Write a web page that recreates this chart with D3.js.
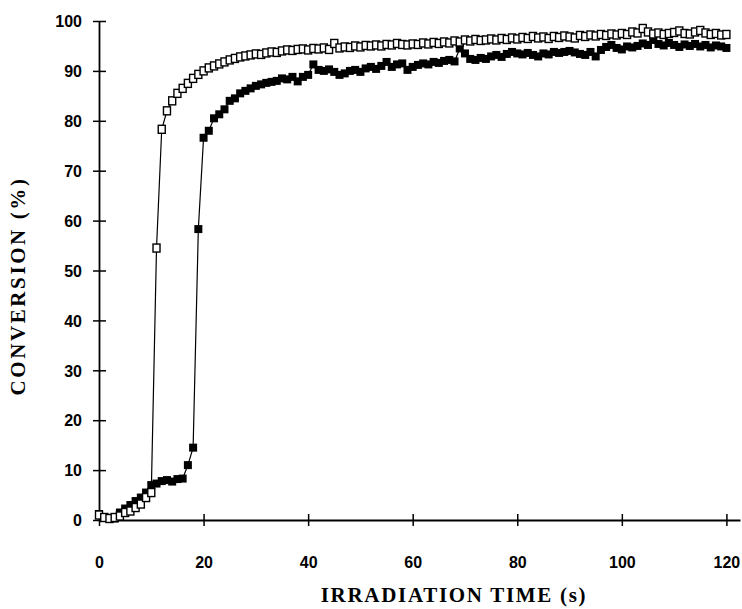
<!DOCTYPE html>
<html>
<head>
<meta charset="utf-8">
<script src="https://cdn.jsdelivr.net/npm/d3@7"></script>
<style>
  body { margin: 0; background: #fff; }
  svg { display: block; }
</style>
</head>
<body>
<div id="chart"></div>
<script>
// Irradiation time (s), one reading per second
const times = d3.range(0, 121);

// Conversion (%) - open squares
const openSeries = [
  1.0, 0.5, 0.3, 0.5, 0.8, 1.5, 1.8, 2.5, 3.2, 4.5,
  5.5, 54.5, 78.3, 82, 84, 85.5, 86.5, 87.5, 88.5, 89.3,
  90, 90.6, 91, 91.4, 91.8, 92.2, 92.5, 92.8, 93, 93.2,
  93.4, 93.3, 93.6, 93.8, 93.7, 94, 94.2, 94.1, 94.3, 94.4,
  94.2, 94.5, 94.4, 94.6, 94.3, 95.5, 94.6, 94.8, 94.7, 95,
  94.8, 95.1, 95, 95.2, 95, 95.3, 95.2, 95.5, 95.3, 95.2,
  95.4, 95.3, 95.6, 95.4, 95.7, 95.5, 95.8, 95.6, 96, 95.8,
  96.2, 96, 96.3, 96.1, 96.2, 96.4, 96.2, 96.5, 96.3, 96.6,
  96.4, 96.7, 96.5, 96.9, 96.6, 96.8, 96.5, 96.9, 96.7, 97,
  96.8, 96.6, 97.1, 96.9, 97.2, 97, 97.3, 97.1, 97.4, 97.2,
  97.5, 97.3, 97.8, 97.6, 98.5, 97.8, 97.4, 97.6, 97.3, 97.5,
  97.7, 98, 97.5, 97.4, 97.8, 98.1, 97.6, 97.3, 97.5, 97.2,
  97.3
];

// Conversion (%) - filled squares
const filledSeries = [
  1.2, 0.6, 0.4, 0.3, 1.5, 2.3, 3, 3.8, 4.5, 5.5,
  7, 7.3, 7.8, 8, 7.7, 8.2, 8.3, 11, 14.5, 58.3,
  76.6, 78, 80.5, 81.3, 82.3, 84, 84.5, 85.5, 86, 86.5,
  87, 87.3, 87.6, 87.8, 88, 88.5, 88.3, 88.8, 87.9, 88.8,
  89.2, 91.3, 90.2, 90, 90.3, 89.8, 89.2, 89.5, 90, 90.2,
  89.8, 90.5, 90.8, 90.4, 91, 91.8, 90.8, 91.3, 91.5, 90.2,
  90.8, 91.2, 91.5, 91.3, 91.8, 91.6, 92, 92.2, 91.9, 94.5,
  93.5, 92.4, 92.2, 92.6, 92.4, 92.9, 93.2, 92.8, 93.4, 93.8,
  93.5, 93.3, 93.6, 93.2, 92.9, 93.5, 93.3, 93.8, 93.6, 93.8,
  94, 93.7, 93.4, 93.2, 93.8, 92.9, 94.2, 94.8, 95.2, 94.6,
  94.3, 94.9, 94.7, 95, 95.5, 95.2, 96.2, 95.4, 95.1, 95.6,
  95.2, 94.8, 95.3, 95, 95.4, 94.9, 95.2, 94.7, 95.1, 94.9,
  94.6
];

const xTicks = [0, 20, 40, 60, 80, 100, 120];
const yTicks = [0, 10, 20, 30, 40, 50, 60, 70, 80, 90, 100];

const width = 742, height = 609;

const svg = d3.select("#chart")
  .append("svg")
    .attr("width", width)
    .attr("height", height);

svg.append("rect").attr("width", width).attr("height", height).attr("fill", "#fff");

// scales: axis runs a little past 120 on the right
const x = d3.scaleLinear().domain([0, 122.6]).range([99, 740]);
const y = d3.scaleLinear().domain([0, 100]).range([520, 21]);

const labelFont = "'Liberation Sans', Arial, Helvetica, sans-serif";
const titleFont = "'Liberation Serif', 'Times New Roman', Times, serif";

// x axis
const xAxis = svg.append("g")
  .attr("transform", `translate(0,${y(0)})`)
  .call(d3.axisBottom(x).tickValues(xTicks).tickSizeOuter(0).tickFormat(d3.format("d")));
xAxis.select(".domain").attr("stroke", "#000").attr("stroke-width", 1.8);
xAxis.selectAll(".tick line").attr("y1", -6).attr("y2", 6).attr("stroke-width", 1.5);
xAxis.selectAll(".tick text")
  .attr("y", 48)
  .attr("dy", 0)
  .style("font-family", labelFont)
  .style("font-size", "16px")
  .style("font-weight", "bold")
  .attr("fill", "#000");

// y axis
const yAxis = svg.append("g")
  .attr("transform", `translate(${x(0)},0)`)
  .call(d3.axisLeft(y).tickValues(yTicks).tickSizeOuter(0).tickFormat(d3.format("d")));
yAxis.select(".domain").attr("stroke", "#000").attr("stroke-width", 1.8);
yAxis.selectAll(".tick line").attr("x1", -6).attr("x2", 7).attr("stroke-width", 1.5);
yAxis.selectAll(".tick text")
  .attr("x", -17)
  .attr("dy", "0.36em")
  .style("font-family", labelFont)
  .style("font-size", "16px")
  .style("font-weight", "bold")
  .attr("fill", "#000");

// axis titles
svg.append("text")
  .attr("x", 454)
  .attr("y", 602)
  .attr("text-anchor", "middle")
  .style("font-family", titleFont)
  .style("font-size", "21px")
  .style("font-weight", "bold")
  .style("letter-spacing", "1.7px")
  .text("IRRADIATION TIME (s)");

svg.append("text")
  .attr("transform", "translate(25,286) rotate(-90)")
  .attr("text-anchor", "middle")
  .style("font-family", titleFont)
  .style("font-size", "21px")
  .style("font-weight", "bold")
  .style("letter-spacing", "2.6px")
  .text("CONVERSION (%)");

// connecting lines
const line = d3.line()
  .x((d, i) => x(times[i]))
  .y(d => y(d));

[filledSeries, openSeries].forEach(s => {
  svg.append("path")
    .datum(s)
    .attr("d", line)
    .attr("fill", "none")
    .attr("stroke", "#000")
    .attr("stroke-width", 1.2);
});

// markers
const size = 8;
svg.append("g").selectAll("rect")
  .data(filledSeries)
  .join("rect")
    .attr("x", (d, i) => x(times[i]) - size / 2)
    .attr("y", d => y(d) - size / 2)
    .attr("width", size)
    .attr("height", size)
    .attr("fill", "#000");

svg.append("g").selectAll("rect")
  .data(openSeries)
  .join("rect")
    .attr("x", (d, i) => x(times[i]) - (size - 1) / 2)
    .attr("y", d => y(d) - size / 2)
    .attr("width", size - 1)
    .attr("height", size)
    .attr("fill", "#fff")
    .attr("stroke", "#000")
    .attr("stroke-width", 1.4);
</script>
</body>
</html>
